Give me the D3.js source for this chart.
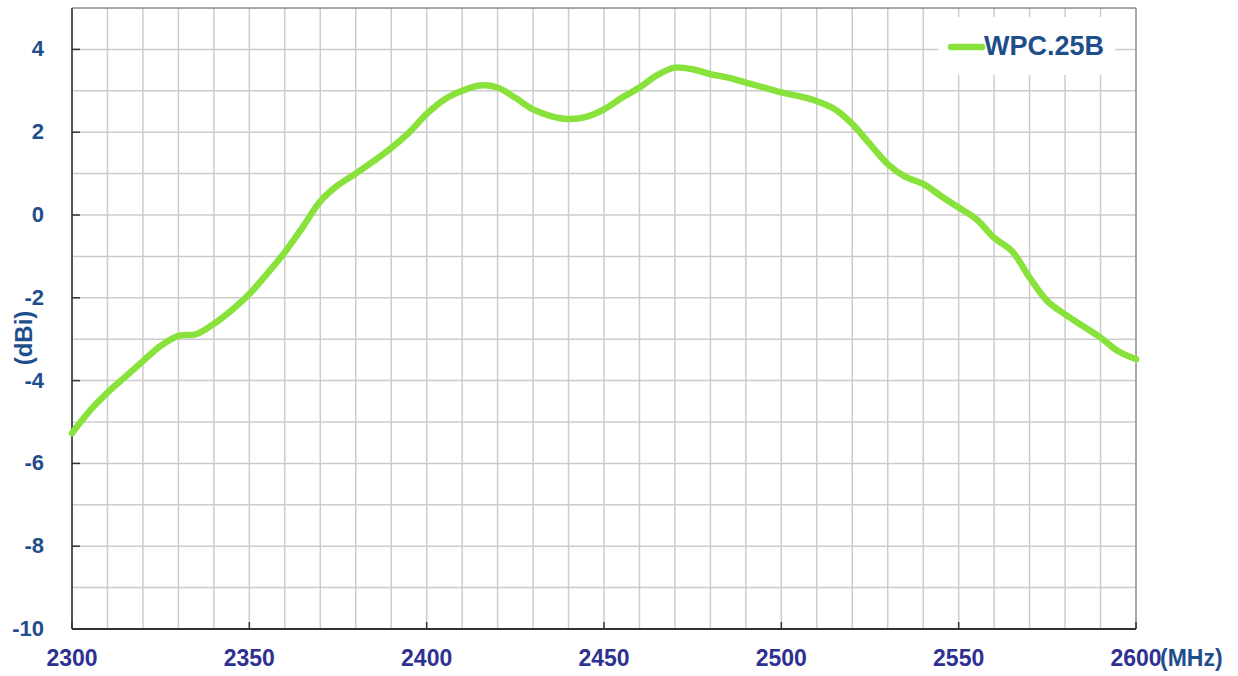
<!DOCTYPE html>
<html><head><meta charset="utf-8">
<script src="https://cdn.jsdelivr.net/npm/d3@7"></script>
<style>body{margin:0;background:#fff;}svg{display:block;}</style>
</head><body><svg id="c" width="1238" height="676"></svg>
<script>
const freqs = [2300,2305,2310,2315,2320,2325,2330,2335,2340,2345,2350,2355,2360,2365,2370,2375,2380,2385,2390,2395,2400,2405,2410,2415,2420,2425,2430,2435,2440,2445,2450,2455,2460,2465,2470,2475,2480,2485,2490,2495,2500,2505,2510,2515,2520,2525,2530,2535,2540,2545,2550,2555,2560,2565,2570,2575,2580,2585,2590,2595,2600];
const gain = [-5.27,-4.73,-4.29,-3.91,-3.53,-3.16,-2.92,-2.88,-2.63,-2.30,-1.91,-1.42,-0.90,-0.30,0.33,0.72,1.0,1.3,1.62,1.99,2.44,2.79,3.0,3.13,3.08,2.83,2.55,2.39,2.32,2.37,2.55,2.83,3.08,3.38,3.56,3.52,3.40,3.32,3.2,3.08,2.96,2.87,2.75,2.56,2.2,1.71,1.23,0.92,0.75,0.46,0.18,-0.10,-0.55,-0.87,-1.51,-2.08,-2.4,-2.68,-2.96,-3.29,-3.48];
const xTicks = [2300,2350,2400,2450,2500,2550,2600];
const yTicks = [4,2,0,-2,-4,-6,-8,-10];
const seriesName = "WPC.25B";

const FONT = "Liberation Sans, Arial, sans-serif";
const svg = d3.select("#c");
const L=72, T=8, R=1136, B=629;
const x = d3.scaleLinear().domain([2300,2600]).range([L,R]);
const y = d3.scaleLinear().domain([-10,5]).range([B,T]);

// grid
const g = svg.append("g");
g.selectAll(".vg").data(d3.range(2310,2600,10)).enter().append("line")
 .attr("x1",d=>x(d)).attr("x2",d=>x(d)).attr("y1",T).attr("y2",B)
 .attr("stroke","#cccccc").attr("stroke-width",1.5);
g.selectAll(".hg").data(d3.range(-9,5,1)).enter().append("line")
 .attr("x1",L).attr("x2",R).attr("y1",d=>y(d)).attr("y2",d=>y(d))
 .attr("stroke","#cccccc").attr("stroke-width",1.5);
svg.append("line").attr("x1",L).attr("x2",R).attr("y1",T).attr("y2",T).attr("stroke","#8a8a8a").attr("stroke-width",1.5);
svg.append("line").attr("x1",R).attr("x2",R).attr("y1",T).attr("y2",B).attr("stroke","#8a8a8a").attr("stroke-width",1.5);

// legend background
svg.append("rect").attr("x",938).attr("y",17).attr("width",177).attr("height",58).attr("fill","#fff");

// axes lines
svg.append("line").attr("x1",L).attr("x2",L).attr("y1",T).attr("y2",B).attr("stroke","#555").attr("stroke-width",2);
svg.append("line").attr("x1",L).attr("x2",R).attr("y1",B).attr("y2",B).attr("stroke","#333").attr("stroke-width",2);

// y ticks
svg.selectAll(".yt").data(yTicks).enter().append("line")
 .attr("x1",L).attr("x2",L+8).attr("y1",d=>y(d)).attr("y2",d=>y(d)).attr("stroke","#333").attr("stroke-width",1.5);
svg.selectAll(".yl").data(yTicks).enter().append("text")
 .attr("x",44).attr("y",d=>y(d)+7).attr("text-anchor","end")
 .attr("font-family",FONT).attr("font-weight","bold").attr("font-size",22)
 .attr("fill","#1f4e8c").text(d=>d);
// x ticks
svg.selectAll(".xt").data(xTicks).enter().append("line")
 .attr("x1",d=>x(d)).attr("x2",d=>x(d)).attr("y1",B).attr("y2",B-7).attr("stroke","#333").attr("stroke-width",1.5);
svg.selectAll(".xl").data(xTicks).enter().append("text")
 .attr("x",d=>x(d)).attr("y",666).attr("text-anchor","middle")
 .attr("font-family",FONT).attr("font-weight","bold").attr("font-size",23)
 .attr("fill","#2e3192").text(d=>d);
svg.append("text").attr("x",1160).attr("y",666)
 .attr("font-family",FONT).attr("font-weight","bold").attr("font-size",23)
 .attr("fill","#1f4e8c").text("(MHz)");
svg.append("text").attr("transform","translate(32,338) rotate(-90)").attr("text-anchor","middle")
 .attr("font-family",FONT).attr("font-weight","bold").attr("font-size",24)
 .attr("fill","#1f4e8c").text("(dBi)");

// curve
const line = d3.line().x((d,i)=>x(freqs[i])).y(d=>y(d)).curve(d3.curveCatmullRom.alpha(0.5));
svg.append("path").datum(gain).attr("d",line).attr("fill","none")
 .attr("stroke","#88e23b").attr("stroke-width",6.5).attr("stroke-linejoin","round").attr("stroke-linecap","round");

// legend
svg.append("line").attr("x1",951).attr("x2",982).attr("y1",47).attr("y2",47)
 .attr("stroke","#88e23b").attr("stroke-width",6.5).attr("stroke-linecap","round");
svg.append("text").attr("x",984).attr("y",55)
 .attr("font-family",FONT).attr("font-weight","bold").attr("font-size",27)
 .attr("fill","#1f4e8c").text(seriesName);
</script></body></html>
